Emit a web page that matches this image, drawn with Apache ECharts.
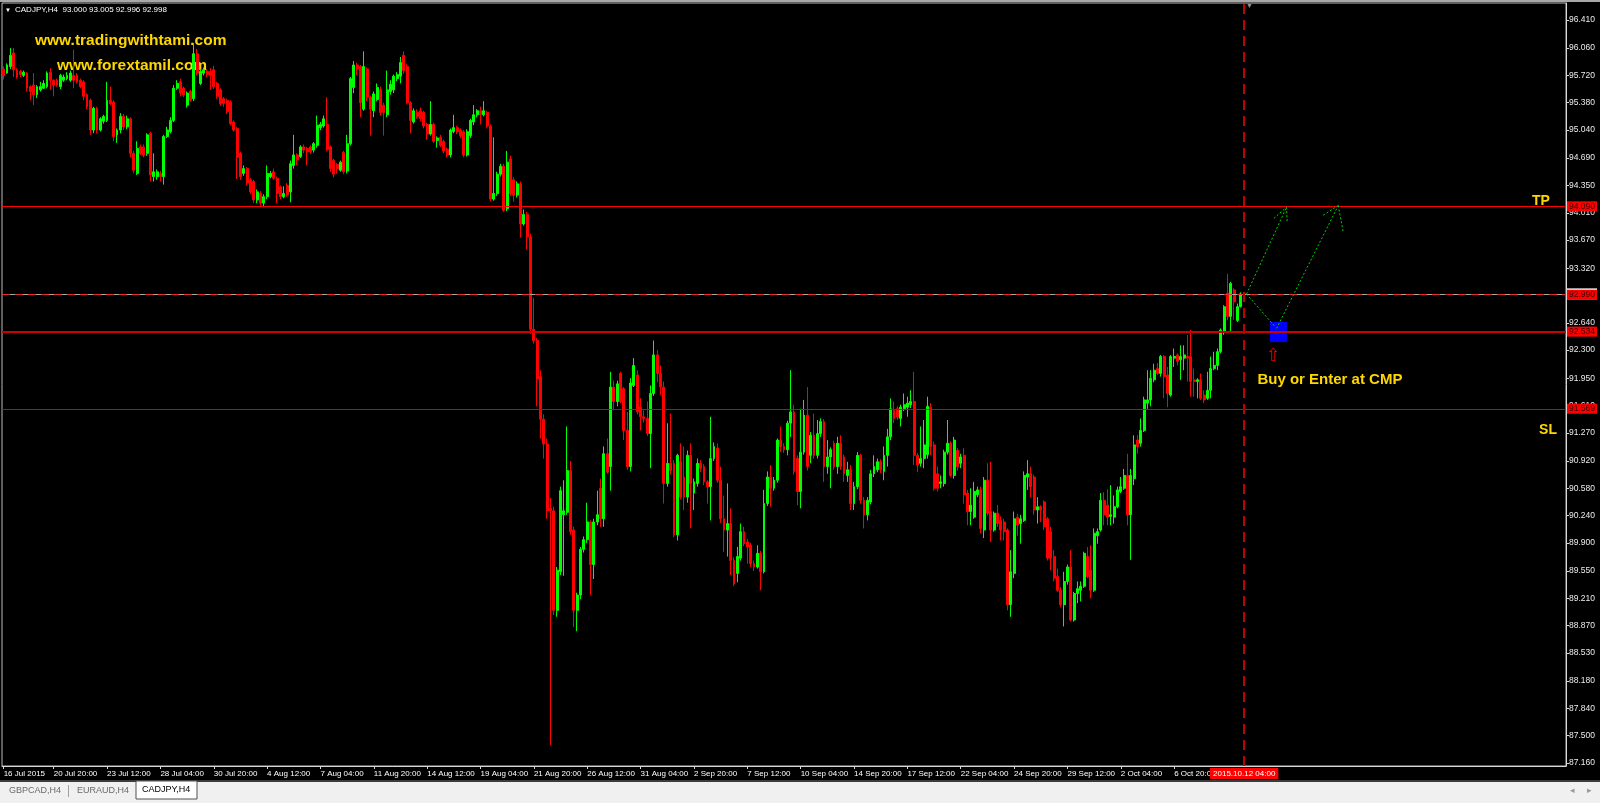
<!DOCTYPE html>
<html><head><meta charset="utf-8">
<script src="https://cdn.jsdelivr.net/npm/echarts@6/dist/echarts.min.js"></script>
<style>html,body{margin:0;padding:0;background:#000;}#chart{width:1600px;height:803px;}</style>
</head><body><div id="chart"></div>
<script>
// ---------------- data ----------------
const chartTitle = 'CADJPY,H4  93.000 93.005 92.996 92.998';
// H4 candles [open, close, low, high], 16 Jul 2015 08:00 .. 12 Oct 2015 04:00
const candles = [
[95.80,95.72,95.67,95.83],[95.75,95.85,95.74,95.87],[95.83,95.97,95.80,96.06],[96.00,95.79,95.70,96.06],[95.79,95.70,95.68,95.81],
[95.77,95.73,95.70,95.79],[95.72,95.76,95.70,95.78],[95.75,95.56,95.52,95.76],[95.58,95.52,95.41,95.60],[95.60,95.48,95.35,95.75],
[95.48,95.58,95.44,95.60],[95.54,95.58,95.52,95.64],[95.56,95.62,95.55,95.66],[95.58,95.75,95.56,95.77],[95.76,95.66,95.54,95.81],
[95.66,95.60,95.46,95.67],[95.66,95.60,95.58,95.68],[95.58,95.72,95.55,95.74],[95.66,95.70,95.64,95.73],[95.68,95.72,95.66,95.76],
[95.66,95.75,95.64,95.78],[95.72,95.66,95.56,96.04],[95.72,95.64,95.62,95.75],[95.66,95.58,95.56,95.68],[95.64,95.46,95.41,95.66],
[95.48,95.33,95.30,95.50],[95.41,95.04,94.98,95.43],[95.04,95.31,95.00,95.33],[95.31,95.04,95.00,95.33],[95.04,95.18,95.02,95.20],
[95.15,95.21,95.12,95.23],[95.16,95.41,95.14,95.64],[95.41,95.37,95.35,95.58],[95.39,94.96,94.90,95.41],[94.98,95.04,94.88,95.06],
[95.04,95.21,95.00,95.25],[95.21,95.08,95.04,95.24],[95.08,95.18,95.05,95.22],[95.18,94.75,94.70,95.20],[94.75,94.54,94.50,94.78],
[94.50,94.81,94.48,94.90],[94.83,94.75,94.73,94.86],[94.83,94.73,94.70,94.86],[94.75,94.98,94.72,95.00],[95.00,94.48,94.40,95.02],
[94.46,94.52,94.40,94.75],[94.46,94.52,94.42,94.55],[94.50,94.46,94.40,94.53],[94.46,94.96,94.36,94.98],[94.96,95.04,94.94,95.08],
[95.02,95.16,95.00,95.20],[95.16,95.56,95.14,95.60],[95.56,95.62,95.54,95.66],[95.64,95.50,95.46,95.68],[95.56,95.48,95.45,95.58],
[95.35,95.50,95.32,95.52],[95.52,95.41,95.39,95.54],[95.43,95.99,95.40,96.12],[95.99,95.75,95.72,96.05],[95.62,95.77,95.60,95.80],
[95.75,95.79,95.72,95.82],[95.77,95.73,95.70,95.80],[95.77,95.72,95.54,95.81],[95.79,95.58,95.55,95.84],[95.62,95.46,95.43,95.64],
[95.54,95.37,95.34,95.56],[95.43,95.37,95.33,95.45],[95.41,95.27,95.24,95.43],[95.39,95.12,95.10,95.41],[95.14,95.04,95.02,95.16],
[95.06,94.70,94.43,95.08],[94.75,94.46,94.42,94.77],[94.50,94.56,94.47,94.60],[94.56,94.38,94.35,94.58],[94.42,94.27,94.24,94.44],
[94.40,94.17,94.13,94.42],[94.17,94.27,94.13,94.30],[94.25,94.13,94.10,94.28],[94.13,94.21,94.08,94.24],[94.21,94.50,94.18,94.60],
[94.46,94.50,94.44,94.53],[94.52,94.44,94.42,94.56],[94.44,94.25,94.13,94.46],[94.33,94.21,94.18,94.35],[94.21,94.25,94.19,94.34],
[94.35,94.23,94.21,94.38],[94.27,94.62,94.14,94.66],[94.60,94.73,94.56,94.98],[94.73,94.67,94.60,94.75],[94.71,94.83,94.69,94.85],
[94.83,94.79,94.75,94.86],[94.81,94.77,94.60,94.83],[94.83,94.77,94.74,94.85],[94.79,94.87,94.76,94.89],[94.85,95.10,94.82,95.22],
[95.07,95.11,95.04,95.14],[95.09,95.18,95.07,95.22],[95.11,94.80,94.78,95.45],[94.83,94.56,94.52,94.85],[94.66,94.49,94.45,94.68],
[94.61,94.56,94.50,94.63],[94.54,94.64,94.52,94.66],[94.76,94.52,94.49,94.78],[94.53,94.87,94.50,94.98],[94.87,95.68,94.85,95.70],
[95.57,95.85,95.50,95.90],[95.85,95.80,95.72,95.88],[95.83,95.38,95.20,95.85],[95.30,95.83,95.28,96.02],[95.80,95.45,95.40,95.82],
[95.45,95.30,94.97,95.47],[95.28,95.49,95.20,95.52],[95.42,95.57,95.40,95.62],[95.54,95.26,95.22,95.58],[95.35,95.26,94.97,95.38],
[95.23,95.54,95.20,95.78],[95.52,95.61,95.48,95.66],[95.54,95.71,95.50,95.73],[95.68,95.73,95.65,95.76],[95.71,95.88,95.62,95.95],
[95.97,95.78,95.74,96.02],[95.83,95.38,95.36,95.86],[95.38,95.16,95.00,95.40],[95.14,95.28,95.12,95.31],[95.26,95.21,95.18,95.30],
[95.28,95.18,95.15,95.32],[95.26,95.09,95.06,95.28],[95.11,94.99,94.92,95.13],[94.99,95.11,94.97,95.40],[95.11,94.90,94.88,95.13],
[94.91,94.94,94.82,94.96],[94.95,94.85,94.83,94.98],[94.90,94.78,94.75,94.92],[94.80,94.73,94.70,94.82],[94.73,95.04,94.70,95.06],
[95.02,95.07,95.00,95.23],[95.07,95.02,94.99,95.09],[95.04,94.97,94.94,95.06],[95.02,94.73,94.70,95.04],[94.73,95.02,94.71,95.05],
[94.97,95.16,94.94,95.18],[95.14,95.23,95.10,95.35],[95.23,95.28,95.20,95.30],[95.28,95.23,95.11,95.33],[95.23,95.28,95.21,95.40],
[95.26,95.09,95.06,95.28],[95.09,94.18,94.15,95.11],[94.18,94.25,94.16,94.95],[94.25,94.49,94.22,94.52],[94.49,94.59,94.46,94.62],
[94.59,94.04,94.02,94.62],[94.06,94.64,94.03,94.78],[94.68,94.25,94.22,94.72],[94.42,94.23,94.15,94.45],[94.23,94.37,94.20,94.40],
[94.37,93.87,93.70,94.40],[93.87,93.99,93.85,94.05],[93.99,93.71,93.55,94.02],[93.71,92.56,92.50,93.75],[92.56,92.42,92.38,92.95],
[92.42,91.94,91.60,92.45],[91.97,91.44,91.20,92.05],[91.44,91.13,90.95,91.50],[91.13,90.30,90.20,91.20],[90.33,90.30,87.38,90.46],
[90.30,89.06,89.00,90.35],[89.06,89.56,88.98,89.60],[89.54,90.55,89.50,90.60],[90.25,90.30,89.49,90.68],[90.28,90.80,90.25,91.35],
[90.80,90.04,90.00,90.92],[90.06,89.06,88.85,90.10],[89.06,89.25,88.80,89.28],[89.25,89.82,89.20,89.85],[89.82,89.94,89.78,89.98],
[89.94,90.16,89.90,90.40],[90.16,89.63,89.25,90.18],[89.63,90.16,89.45,90.20],[90.16,90.25,90.12,90.55],[90.58,90.20,90.10,90.70],
[90.20,91.01,90.10,91.10],[91.01,90.78,90.76,91.20],[90.85,91.84,90.55,92.03],[91.84,91.66,91.55,91.92],[91.66,91.88,91.60,91.92],
[92.01,91.66,91.64,92.03],[91.82,91.30,91.18,91.84],[91.30,90.85,90.81,91.53],[90.85,91.89,90.79,91.95],[91.86,92.11,91.84,92.20],
[91.99,91.53,91.50,92.05],[91.59,91.47,91.30,91.70],[91.47,91.45,91.40,91.55],[91.45,91.26,91.23,91.66],[91.26,91.76,90.83,91.86],
[91.76,92.24,91.73,92.42],[92.24,92.01,91.90,92.30],[92.01,91.84,91.74,92.11],[91.84,90.64,90.39,91.91],[90.64,90.89,90.60,91.39],
[90.89,90.80,90.75,91.51],[90.89,90.00,89.97,90.93],[90.00,90.99,89.93,91.01],[90.91,90.47,90.44,91.14],[90.72,90.47,90.31,91.10],
[90.47,90.99,90.40,91.05],[90.99,90.64,90.08,91.14],[90.52,90.66,90.31,90.70],[90.64,90.89,90.60,90.95],[90.89,90.83,90.78,90.93],
[90.85,90.66,90.62,90.88],[90.66,90.60,90.39,90.68],[90.60,90.95,90.18,91.47],[90.95,91.10,90.92,91.15],[91.08,90.68,90.65,91.14],
[90.68,90.20,90.15,90.85],[90.20,90.06,89.79,90.49],[90.06,90.14,89.73,90.64],[90.14,89.68,89.50,90.33],[89.68,89.39,89.36,89.72],
[89.52,89.73,89.41,89.85],[89.71,90.04,89.68,90.14],[90.04,89.89,89.86,90.10],[89.91,89.85,89.64,89.95],[89.87,89.64,89.60,89.90],
[89.64,89.60,89.55,89.68],[89.60,89.77,89.58,89.87],[89.77,89.54,89.31,89.80],[89.54,90.39,89.52,90.56],[90.39,90.72,90.36,90.79],
[90.72,90.58,90.35,90.87],[90.58,90.68,90.55,90.72],[90.68,91.18,90.65,91.20],[91.18,91.10,91.03,91.35],[91.10,91.06,91.02,91.14],
[91.06,91.39,90.99,91.42],[91.39,91.53,91.22,92.05],[91.53,90.79,90.75,91.62],[90.95,90.54,90.37,90.99],[90.54,91.03,90.33,91.57],
[91.03,91.49,91.00,91.68],[91.49,90.85,90.80,91.84],[90.99,91.24,90.89,91.28],[91.24,90.99,90.95,91.51],[90.99,91.26,90.95,91.43],
[91.26,91.41,91.22,91.45],[91.41,90.85,90.66,91.44],[90.85,90.97,90.76,91.18],[90.97,91.06,90.58,91.09],[91.14,90.85,90.81,91.17],
[90.85,91.14,90.76,91.22],[91.14,90.85,90.81,91.24],[90.97,90.76,90.66,91.00],[90.74,90.81,90.66,90.91],[90.81,90.39,90.31,90.87],
[90.39,90.60,90.31,90.66],[90.60,90.99,90.57,91.03],[90.99,90.43,90.39,91.01],[90.43,90.25,90.08,90.47],[90.25,90.43,90.18,90.47],
[90.41,90.76,90.38,90.81],[90.76,90.85,90.72,90.99],[90.81,90.91,90.78,90.95],[90.91,90.81,90.77,90.94],[90.79,90.99,90.68,91.10],
[90.99,91.22,90.85,91.32],[91.22,91.57,91.18,91.70],[91.55,91.45,91.39,91.66],[91.57,91.47,91.43,91.60],[91.45,91.59,91.35,91.62],
[91.57,91.62,91.54,91.76],[91.59,91.64,91.47,91.72],[91.62,91.66,91.58,91.80],[91.66,90.99,90.87,92.03],[90.99,90.87,90.78,91.02],
[90.89,90.95,90.85,91.35],[90.95,91.12,90.83,91.43],[91.00,91.60,90.95,91.72],[91.59,91.10,90.99,91.64],[91.12,90.58,90.55,91.16],
[90.76,90.58,90.54,90.85],[90.64,90.66,90.58,90.74],[90.64,91.03,90.60,91.06],[91.03,91.14,91.00,91.43],[91.14,90.74,90.72,91.16],
[90.74,91.18,90.70,91.22],[91.05,90.85,90.80,91.08],[90.89,90.97,90.83,91.01],[90.99,90.50,90.39,91.08],[90.52,90.29,90.12,90.56],
[90.29,90.37,90.12,90.58],[90.22,90.54,90.20,90.66],[90.50,90.56,90.47,90.60],[90.56,90.08,90.02,90.60],[90.06,90.68,89.96,90.72],
[90.68,90.27,90.24,90.89],[90.29,90.06,89.91,90.91],[90.06,90.27,90.04,90.29],[90.27,90.14,90.10,90.37],[90.18,90.06,89.93,90.23],
[90.16,90.04,89.93,90.20],[90.06,89.13,89.06,90.08],[89.13,89.54,88.98,89.81],[89.52,90.20,89.46,90.29],[90.22,90.12,89.99,90.26],
[90.14,90.20,89.89,90.25],[90.18,90.74,90.16,90.79],[90.72,90.76,90.56,90.93],[90.76,90.60,90.47,90.85],[90.72,90.31,90.25,90.75],
[90.31,90.35,90.14,90.47],[90.35,90.31,90.16,90.37],[90.41,90.10,90.06,90.43],[90.20,89.71,89.68,90.22],[90.04,89.71,89.56,90.10],
[89.73,89.46,89.42,89.81],[89.48,89.31,89.29,89.58],[89.31,89.13,89.10,89.35],[89.13,89.42,88.86,89.54],[89.42,89.60,89.38,89.63],
[89.60,88.94,88.92,89.81],[88.94,89.27,88.92,89.29],[89.27,89.33,89.15,89.42],[89.31,89.36,89.17,89.42],[89.36,89.77,89.34,89.79],
[89.73,89.48,89.46,89.85],[89.56,89.31,89.21,89.87],[89.31,90.02,89.29,90.08],[89.99,90.04,89.89,90.08],[90.06,90.43,90.04,90.52],
[90.43,90.25,90.12,90.53],[90.37,90.22,90.12,90.57],[90.23,90.25,90.12,90.62],[90.22,90.35,90.14,90.49],[90.35,90.56,90.33,90.60],
[90.54,90.60,90.52,90.72],[90.58,90.74,90.56,90.82],[90.74,90.25,90.12,91.01],[90.25,90.74,89.69,90.82],[90.70,91.12,90.62,91.24],
[91.18,91.10,91.01,91.24],[91.14,91.30,91.10,91.45],[91.30,91.68,91.28,91.72],[91.64,91.68,91.57,92.05],[91.68,91.95,91.60,92.05],
[91.93,92.05,91.90,92.13],[92.07,92.01,91.99,92.14],[92.01,92.22,91.97,92.24],[92.22,91.97,91.70,92.24],[91.99,91.76,91.59,92.09],
[91.74,92.22,91.72,92.24],[92.20,92.22,92.09,92.32],[92.24,92.16,92.11,92.26],[92.18,92.22,91.93,92.36],[92.20,92.24,92.05,92.36],
[92.22,92.20,91.91,92.49],[92.22,91.91,91.72,92.55],[91.93,91.91,91.72,92.07],[91.91,91.93,91.70,91.95],[91.93,91.70,91.68,92.01],
[91.74,91.68,91.64,91.80],[91.70,91.80,91.68,92.03],[91.80,92.07,91.70,92.22],[92.07,92.11,92.05,92.28],[92.11,92.28,92.05,92.32],
[92.28,92.55,92.26,92.57],[92.53,92.84,92.49,92.86],[93.01,92.72,92.67,93.25],[92.72,93.13,92.53,93.15],[93.05,92.90,92.68,93.07],
[92.67,92.84,92.65,92.88],[92.84,93.00,92.83,93.02],[93.000,92.998,92.996,93.005]
];
const xTickLabels = ['16 Jul 2015','20 Jul 20:00','23 Jul 12:00','28 Jul 04:00','30 Jul 20:00','4 Aug 12:00','7 Aug 04:00',
  '11 Aug 20:00','14 Aug 12:00','19 Aug 04:00','21 Aug 20:00','26 Aug 12:00','31 Aug 04:00','2 Sep 20:00','7 Sep 12:00',
  '10 Sep 04:00','14 Sep 20:00','17 Sep 12:00','22 Sep 04:00','24 Sep 20:00','29 Sep 12:00','2 Oct 04:00','6 Oct 20:00'];
const yTickLabels = [87.16,87.50,87.84,88.18,88.53,88.87,89.21,89.55,89.90,90.24,90.58,90.92,91.27,91.61,91.95,
  92.30,92.64,92.98,93.32,93.67,94.01,94.35,94.69,95.04,95.38,95.72,96.06,96.41];
const tpLevel = 94.090;
const bidLevel = 92.998;
const entryLevel = 92.990;
const supportLevel = 92.534;
const slLevel = 91.569;
const currentBarTime = '2015.10.12 04:00';
const currentBarIndex = 372;
const emptyBarsRight = 96;

// bar timestamps (H4, Mon-Fri) for the category axis
function buildBarTimes(count) {
  const out = []; let t = Date.UTC(2015, 6, 16, 8);
  const p = n => String(n).padStart(2, '0');
  while (out.length < count) {
    const d = new Date(t), wd = d.getUTCDay();
    if (wd !== 0 && wd !== 6) out.push(d.getUTCFullYear() + '.' + p(d.getUTCMonth() + 1) + '.' + p(d.getUTCDate()) + ' ' + p(d.getUTCHours()) + ':00');
    t += 4 * 3600 * 1000;
  }
  return out;
}
const barTimes = buildBarTimes(candles.length + emptyBarsRight);
const nCat = barTimes.length;

// ---------------- chart ----------------
const chart = echarts.init(document.getElementById('chart'), null, {renderer: 'canvas'});
const FONT = '"Liberation Sans", Arial, sans-serif';
const YEL = '#FFD700';
const showTick = idx => idx === 0 || (idx % 16 === 15 && (idx + 1) / 16 < xTickLabels.length);

const tag = (bg, fg) => ({show: true, position: 'end', distance: 1, backgroundColor: bg, color: fg,
  fontSize: 8.5, fontFamily: FONT, padding: [1, 2, 0, 2], lineHeight: 9});

const option = {
  backgroundColor: '#000000',
  animation: false,
  grid: {left: 2, right: 34, top: 3, bottom: 37, show: true, borderColor: '#bdbdbd', borderWidth: 1, backgroundColor: 'transparent', containLabel: false},
  xAxis: [{
    type: 'category', data: barTimes, boundaryGap: true,
    axisLine: {show: true, onZero: false, lineStyle: {color: '#d8d8d8', width: 1}},
    axisTick: {show: true, interval: showTick, alignWithLabel: true, length: 3, lineStyle: {color: '#d8d8d8'}},
    axisLabel: {show: true, interval: showTick, align: 'left', margin: 4, color: '#ffffff', fontSize: 8, fontFamily: FONT,
      formatter: (v, idx) => idx === 0 ? xTickLabels[0] : xTickLabels[(idx + 1) / 16]},
    splitLine: {show: false}
  }, {
    type: 'value', min: -0.5, max: nCat - 0.5, show: false, gridIndex: 0,
    axisLine: {show: false, onZero: false}, axisTick: {show: false}, axisLabel: {show: false}, splitLine: {show: false}
  }],
  yAxis: [{
    type: 'value', position: 'right', min: 87.1222, max: 96.6217, scale: true,
    axisLine: {show: true, onZero: false, lineStyle: {color: '#d8d8d8', width: 1}},
    axisTick: {show: true, length: 3, inside: false, customValues: yTickLabels, lineStyle: {color: '#d8d8d8'}},
    axisLabel: {show: true, customValues: yTickLabels, margin: 3, color: '#ececec', fontSize: 8.5, fontFamily: FONT,
      formatter: v => Number(v).toFixed(3)},
    splitLine: {show: false}, splitArea: {show: false}, minorTick: {show: false}
  }],
  series: [{
    type: 'candlestick', name: 'CADJPY,H4', xAxisIndex: 0, yAxisIndex: 0,
    data: candles, barWidth: 2.4,
    itemStyle: {color: '#00FF00', color0: '#FF0000', borderColor: '#00FF00', borderColor0: '#FF0000', borderWidth: 1, borderColorDoji: '#00FF00'},
    emphasis: {disabled: true}
  }, {
    type: 'lines', coordinateSystem: 'cartesian2d', xAxisIndex: 1, yAxisIndex: 0, polyline: false, silent: true, z: 5,
    lineStyle: {color: '#00D000', width: 1, type: [2, 2], opacity: 1},
    data: [
      {coords: [[currentBarIndex + 0.7, bidLevel], [384.7, 94.08]]},
      {coords: [[380.9, 93.94], [384.7, 94.08]]},
      {coords: [[384.7, 94.08], [384.9, 93.886]]},
      {coords: [[currentBarIndex + 0.7, bidLevel], [381.3, 92.59]]},
      {coords: [[381.7, 92.57], [400.2, 94.10]]},
      {coords: [[395.7, 93.98], [400.2, 94.10]]},
      {coords: [[400.2, 94.10], [401.7, 93.77]]}
    ]
  }, {
    type: 'scatter', xAxisIndex: 1, yAxisIndex: 0, symbolSize: 0, silent: true, z: 6,
    itemStyle: {opacity: 1},
    label: {show: true, position: 'inside', color: YEL, fontWeight: 'bold', fontFamily: FONT, fontSize: 14, opacity: 1},
    data: [
      {value: [461.0, 94.156], label: {formatter: 'TP'}},
      {value: [463.1, 91.304], label: {formatter: 'SL'}},
      {value: [397.7, 91.927], label: {formatter: 'Buy or Enter at CMP', fontSize: 15}},
      {value: [380.8, 92.22], label: {formatter: '\u21E7', color: '#E00000', fontWeight: 'normal', fontSize: 18, fontFamily: '"DejaVu Sans", sans-serif'}}
    ],
    markArea: {silent: true, itemStyle: {color: '#0000FF', opacity: 1},
      data: [[{coord: [379.7, 92.65]}, {coord: [384.8, 92.40]}]]},
    markLine: {
      silent: true, symbol: ['none', 'none'], animation: false,
      data: [
        {yAxis: tpLevel, lineStyle: {color: '#FF0000', width: 1, type: 'solid'}, label: Object.assign(tag('#FF0000', '#3a0000'), {formatter: tpLevel.toFixed(3)})},
        {yAxis: bidLevel, lineStyle: {color: '#A8A8A8', width: 1, type: 'solid'}, label: Object.assign(tag('#FFFFFF', '#000000'), {formatter: bidLevel.toFixed(3), padding: [0, 2, 2, 2]})},
        {yAxis: entryLevel, lineStyle: {color: '#E03030', width: 1, type: [8, 5]}, label: Object.assign(tag('#FF0000', '#3a0000'), {formatter: entryLevel.toFixed(3)})},
        {yAxis: supportLevel, lineStyle: {color: '#CC0000', width: 2, type: 'solid'}, label: Object.assign(tag('#FF0000', '#3a0000'), {formatter: supportLevel.toFixed(3)})},
        {yAxis: slLevel, lineStyle: {color: '#E00000', width: 1, type: 'solid'}, label: Object.assign(tag('#FF0000', '#3a0000'), {formatter: slLevel.toFixed(3)})},
        {xAxis: currentBarIndex, lineStyle: {color: '#C00000', width: 2, type: [10, 6]},
          label: {show: true, position: 'start', distance: 2, formatter: currentBarTime, backgroundColor: '#FF0000', color: '#ffffff',
            fontSize: 8, fontFamily: FONT, padding: [2, 3, 1, 3]}}
      ]
    }
  }],
  graphic: [
    {type: 'rect', shape: {x: 0, y: 0, width: 1600, height: 2}, style: {fill: '#a8a8a8'}, silent: true},
    {type: 'text', style: {text: '\u25BC', x: 5, y: 10, fill: '#ffffff', font: '6px ' + FONT, verticalAlign: 'middle'}, silent: true},
    {type: 'text', style: {text: chartTitle, x: 15, y: 10, fill: '#ffffff', font: '8px ' + FONT, verticalAlign: 'middle'}, silent: true},
    {type: 'text', style: {text: '\u25BC', x: 1246, y: 6, fill: '#909090', font: '7px ' + FONT, verticalAlign: 'middle'}, silent: true},
    {type: 'text', style: {text: 'www.tradingwithtami.com', x: 35, y: 41, fill: YEL, font: 'bold 15.5px ' + FONT, verticalAlign: 'middle'}, silent: true},
    {type: 'text', style: {text: 'www.forextamil.com', x: 57, y: 66, fill: YEL, font: 'bold 15.5px ' + FONT, verticalAlign: 'middle'}, silent: true},
    // tab bar
    {type: 'rect', shape: {x: 0, y: 780, width: 1600, height: 2}, style: {fill: '#3c3c3c'}, silent: true},
    {type: 'rect', shape: {x: 0, y: 782, width: 1600, height: 21}, style: {fill: '#F0F0F0'}, silent: true},
    {type: 'rect', shape: {x: 136, y: 781, width: 61, height: 18}, style: {fill: '#FFFFFF', stroke: '#505050', lineWidth: 1}, silent: true},
    {type: 'text', style: {text: 'GBPCAD,H4', x: 9, y: 791, fill: '#6a6a6a', font: '9px ' + FONT, verticalAlign: 'middle'}, silent: true},
    {type: 'rect', shape: {x: 68, y: 785, width: 1, height: 12}, style: {fill: '#a0a0a0'}, silent: true},
    {type: 'text', style: {text: 'EURAUD,H4', x: 77, y: 791, fill: '#6a6a6a', font: '9px ' + FONT, verticalAlign: 'middle'}, silent: true},
    {type: 'text', style: {text: 'CADJPY,H4', x: 142, y: 790, fill: '#000000', font: '9px ' + FONT, verticalAlign: 'middle'}, silent: true},
    {type: 'text', style: {text: '\u25C2', x: 1570, y: 791, fill: '#9a9a9a', font: '9px "DejaVu Sans"', verticalAlign: 'middle'}, silent: true},
    {type: 'text', style: {text: '\u25B8', x: 1587, y: 791, fill: '#9a9a9a', font: '9px "DejaVu Sans"', verticalAlign: 'middle'}, silent: true}
  ]
};
chart.setOption(option);
</script>
</body></html>
